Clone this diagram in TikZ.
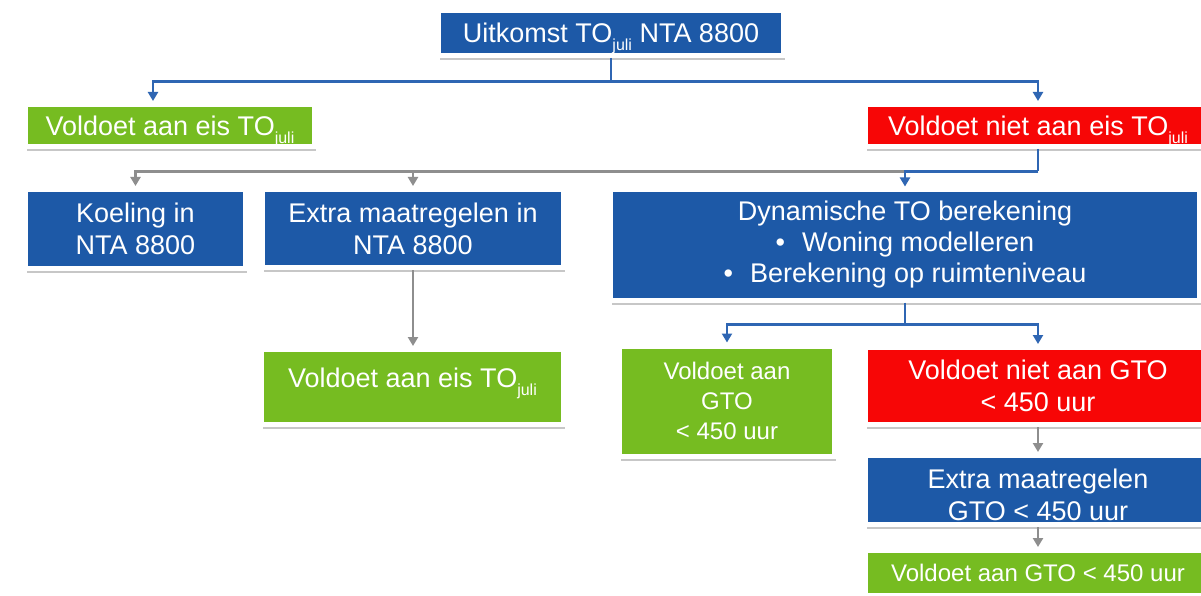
\documentclass[tikz,border=0pt]{standalone}
\usepackage{fontspec}
\setmainfont{Liberation Sans}
\usetikzlibrary{arrows.meta,shadows,calc}

\definecolor{boxblue}{HTML}{1D59A7}
\definecolor{boxgreen}{HTML}{76BC21}
\definecolor{boxred}{HTML}{F70606}
\definecolor{lineblue}{HTML}{2F66B3}
\definecolor{linegray}{HTML}{8E8E8E}

\newcommand\fsz[2]{\fontsize{#1}{#2}\selectfont}
% lowered subscript that adds no depth to the line
\newcommand\juli{\raisebox{-0.3em}[\height][0pt]{\fsz{16}{16}juli}}

\begin{document}
\begin{tikzpicture}[x=1pt,y=-1pt,
  box/.style={draw=white, line width=5pt, text=white, align=center,
    inner sep=0pt, font=\fsz{27}{32},
    drop shadow={shadow xshift=1.2pt, shadow yshift=-4.5pt, opacity=0.22,
      fill=black, draw=none}},
  bluebox/.style={box, fill=boxblue},
  greenbox/.style={box, fill=boxgreen},
  redbox/.style={box, fill=boxred},
  bline/.style={draw=lineblue, line width=2.2pt},
  gline/.style={draw=linegray, line width=2.2pt},
  tip/.style={-{Triangle[width=10pt,length=9pt]}, shorten >=1pt},
  blink/.style={bline, tip},
  glink/.style={gline, tip},
]
\useasboundingbox (0,0) rectangle (1201,596);
\fill[white] (0,0) rectangle (1201,596);

% first level
\node[bluebox, minimum width=345, minimum height=45] (top) at (611,33)
  {Uitkomst TO\juli{} NTA 8800};

% second level
\node[greenbox, minimum width=289, minimum height=42] (g1) at (170,125.5)
  {Voldoet aan eis TO\juli};
\node[redbox, minimum width=345, minimum height=42] (r1) at (1038,125.5)
  {Voldoet niet aan eis TO\juli};

% third level
\node[bluebox, minimum width=220, minimum height=79] (koel) at (135.5,229)
  {Koeling in\\NTA 8800};
\node[bluebox, minimum width=301, minimum height=78] (ext1) at (413,228.5)
  {Extra maatregelen in\\NTA 8800};
\node[bluebox, minimum width=589, minimum height=110, font=\fsz{27}{31}] (dyn) at (905,245)
  {Dynamische TO berekening\\
   \textbullet\hspace{17pt}Woning modelleren\\
   \textbullet\hspace{17pt}Berekening op ruimteniveau};

% fourth level
\node[greenbox, minimum width=302, minimum height=75, text height=19pt, text depth=19pt] (g2) at (412.5,387)
  {Voldoet aan eis TO\juli};
\node[greenbox, minimum width=215, minimum height=110, font=\fsz{24}{30}] (g3) at (727,401)
  {Voldoet aan\\GTO\\< 450 uur};
\node[redbox, minimum width=345, minimum height=77] (r2) at (1038,386)
  {Voldoet niet aan GTO\\< 450 uur};
\node[bluebox, minimum width=345, minimum height=69] (b3) at (1038,490)
  {\rule{0pt}{30pt}Extra maatregelen\\GTO < 450 uur};
\node[greenbox, minimum width=345, minimum height=45, font=\fsz{24}{30}] (g4) at (1038,573)
  {Voldoet aan GTO < 450 uur};

% connectors
\coordinate (j1) at ($(top.south)+(0,23.5)$);
\coordinate (j2) at ($(r1.south)+(0,22.5)$);
\coordinate (j3) at ($(dyn.south)+(0,22)$);
\coordinate (g1in) at ($(g1.north)+(-17,0)$);

\draw[bline] (top.south) -- (j1);
\draw[blink] (j1) -| (g1in);
\draw[blink] (j1) -| (r1.north);

\draw[glink] (j2) -| (koel.north);
\draw[glink] (j2) -| (ext1.north);
\draw[bline] (r1.south) -- (j2);
\draw[blink] (j2) -| (dyn.north);

\draw[glink] (ext1.south) -- (ext1.south |- g2.north);

\draw[bline] (dyn.south) -- (j3);
\draw[blink] (j3) -| (g3.north);
\draw[blink] (j3) -| (r2.north);

\draw[glink] (r2.south) -- (b3.north);
\draw[glink] (b3.south) -- (g4.north);
\end{tikzpicture}
\end{document}
